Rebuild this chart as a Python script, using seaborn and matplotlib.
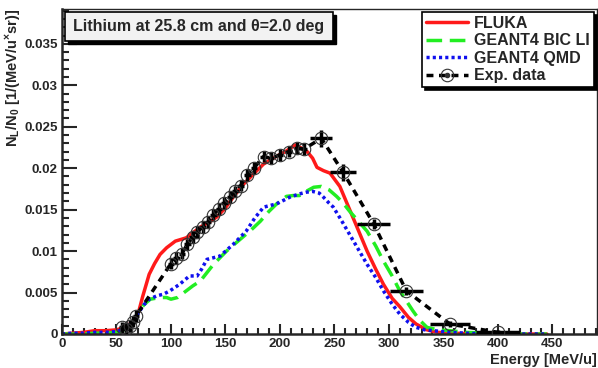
import numpy as np
import pandas as pd
import matplotlib
matplotlib.use("Agg")
import matplotlib.pyplot as plt
import seaborn as sns
from matplotlib.patches import Rectangle
from matplotlib.ticker import MultipleLocator

# ---- data ----
fluka_e = [0, 10, 20, 30, 40, 50, 55, 60, 65, 70, 74, 80, 85, 90, 96, 104, 114, 120,
           127, 135, 142, 150, 157, 166, 175, 185, 195, 205, 214, 220, 225, 230, 234,
           240, 246, 255, 264, 272, 280, 288, 295, 303, 310, 318, 325, 335, 345, 360,
           380, 400, 420, 445]
fluka_v = [0, 0.0001, 0.0002, 0.0004, 0.0004, 0.0005, 0.0007, 0.0010, 0.0015, 0.0025,
           0.0045, 0.0072, 0.0085, 0.0096, 0.0104, 0.0112, 0.0116, 0.0122, 0.0129,
           0.0135, 0.0141, 0.0152, 0.0165, 0.0180, 0.0192, 0.0205, 0.0213, 0.0220,
           0.0228, 0.0224, 0.0220, 0.0212, 0.0201, 0.0197, 0.0194, 0.0178, 0.0150,
           0.0125, 0.0100, 0.0078, 0.0060, 0.0043, 0.0033, 0.0020, 0.0012, 0.0005,
           0.0002, 0.0001, 0, 0, 0, 0]

bic_e = [0, 10, 20, 30, 40, 50, 55, 60, 65, 70, 75, 81, 90, 96, 100, 106, 114, 120, 127,
         133, 139, 145, 151, 158, 166, 174, 182, 190, 197, 206, 212, 218, 224, 231, 238,
         245, 252, 258, 264, 272, 280, 288, 295, 303, 310, 316, 322, 328, 335, 345, 356,
         370, 390, 410, 430, 445]
bic_v = [0, 0, 0, 0.0001, 0.0001, 0.0002, 0.0003, 0.0007, 0.0015, 0.0025, 0.0035, 0.0042,
         0.0044, 0.0044, 0.0042, 0.0044, 0.0052, 0.0058, 0.0064, 0.0074, 0.0084, 0.0092,
         0.0100, 0.0108, 0.0117, 0.0126, 0.0136, 0.0148, 0.0157, 0.0166, 0.0167, 0.0167,
         0.0172, 0.0177, 0.0178, 0.0174, 0.0166, 0.0158, 0.0148, 0.0136, 0.0124, 0.0106,
         0.0088, 0.0070, 0.0052, 0.0040, 0.0028, 0.0017, 0.0008, 0.0005, 0.0004, 0.0002,
         0.0001, 0, 0, 0]

qmd_e = [0, 10, 20, 30, 40, 50, 55, 60, 65, 70, 75, 80, 87, 93, 99, 108, 117, 124, 128,
         133, 139, 145, 151, 157, 163, 169, 177, 185, 191, 197, 203, 209, 218, 224, 230,
         236, 240, 245, 249, 256, 264, 272, 280, 288, 295, 303, 310, 318, 325, 333, 341,
         355, 370, 390, 410, 430, 445]
qmd_v = [0, 0.0001, 0.0001, 0.0002, 0.0002, 0.0003, 0.0005, 0.0009, 0.0015, 0.0025,
         0.0035, 0.0042, 0.0046, 0.0048, 0.0052, 0.0060, 0.0070, 0.0070, 0.0078, 0.0090,
         0.0092, 0.0094, 0.0101, 0.0108, 0.0116, 0.0124, 0.0140, 0.0153, 0.0155, 0.0157,
         0.0161, 0.0165, 0.0169, 0.0171, 0.0172, 0.0170, 0.0165, 0.0158, 0.0153, 0.0138,
         0.0120, 0.0102, 0.0084, 0.0068, 0.0052, 0.0036, 0.0024, 0.0014, 0.0008, 0.0005,
         0.0004, 0.0002, 0.0001, 0, 0, 0, 0]

exp_e = [55, 59, 62, 65, 68, 100, 105, 110, 115, 120, 124, 129, 134, 139, 144, 149, 154,
         159, 164, 170, 176, 185, 192, 200, 208, 216, 222, 238, 258, 286, 316, 356, 400]
exp_v = [0.0008, 0.0006, 0.0010, 0.0015, 0.0022, 0.0085, 0.0092, 0.0097, 0.0108, 0.0117,
         0.0123, 0.0129, 0.0135, 0.0144, 0.0151, 0.0158, 0.0165, 0.0172, 0.0179, 0.0192,
         0.0200, 0.0214, 0.0212, 0.0216, 0.0220, 0.0224, 0.0223, 0.0236, 0.0195, 0.0133,
         0.0052, 0.0012, 0.0002]
exp_xerr = [3] * 27 + [10, 12, 15, 15, 18, 20]
exp_yerr = [0.0007] * 27 + [0.0010, 0.0010, 0.0006, 0.0005, 0.0004, 0.0003]

title_text = "Lithium at 25.8 cm and \u03b8=2.0 deg"
series_labels = ["FLUKA", "GEANT4 BIC LI", "GEANT4 QMD", "Exp. data"]

# ---- style ----
sns.set_theme(style="ticks")
plt.rcParams['font.family'] = ['Liberation Sans', 'DejaVu Sans']
plt.rcParams['font.weight'] = 'bold'
plt.rcParams['mathtext.fontset'] = 'custom'
plt.rcParams['mathtext.bf'] = 'Liberation Sans:bold'
plt.rcParams['mathtext.rm'] = 'Liberation Sans:bold'
plt.rcParams['mathtext.default'] = 'bf'

fig = plt.figure(figsize=(5.98, 3.68), dpi=100)
W, H = 598, 368
ax = fig.add_axes([62 / W, 1 - 334 / H, 535 / W, 325 / H])

sns.lineplot(x=fluka_e, y=fluka_v, ax=ax, color='#ff1a1a', lw=2.5, label=series_labels[0])
sns.lineplot(x=bic_e, y=bic_v, ax=ax, color='#22ee22', lw=2.5,
             label=series_labels[1]).lines[-1].set_dashes((4.5, 2.2))
sns.lineplot(x=qmd_e, y=qmd_v, ax=ax, color='#1010ee', lw=2.5,
             label=series_labels[2]).lines[-1].set_dashes((0.9, 0.9))

ax.errorbar(exp_e, exp_v, xerr=exp_xerr, yerr=exp_yerr, fmt='none', ecolor='black',
            elinewidth=2.5, capsize=0, zorder=4)
sns.lineplot(x=exp_e, y=exp_v, ax=ax, color='black', lw=2.5, marker='o',
             markersize=9, markerfacecolor='none', markeredgecolor='#333333',
             markeredgewidth=0.8, label=series_labels[3], zorder=5)
ax.lines[-1].set_dashes((2.0, 1.6))

ax.set_xlim(0, 491)
ax.set_ylim(0, 0.0392)
ax.xaxis.set_major_locator(MultipleLocator(50))
ax.xaxis.set_minor_locator(MultipleLocator(10))
ax.yaxis.set_major_locator(MultipleLocator(0.005))
ax.yaxis.set_minor_locator(MultipleLocator(0.001))
ax.yaxis.set_major_formatter(plt.FuncFormatter(lambda v, p: ('%g' % round(v, 4))))

ax.tick_params(axis='both', which='both', direction='in', top=False, right=False,
               labelsize=9.6, width=1.5)
ax.tick_params(axis='y', which='major', length=11, pad=3)
ax.tick_params(axis='y', which='minor', length=5)
ax.tick_params(axis='x', which='major', length=7, pad=3)
ax.tick_params(axis='x', which='minor', length=4)
for lab in ax.get_xticklabels() + ax.get_yticklabels():
    lab.set_fontweight('bold')

for s in ['left', 'bottom']:
    ax.spines[s].set_linewidth(1.8)
for s in ['top', 'right']:
    ax.spines[s].set_linewidth(1.0)

ax.set_xlabel("Energy [MeV/u]", fontsize=10.5, fontweight='bold', loc='right')
ax.xaxis.set_label_coords(1.0, -0.058)
ax.xaxis.label.set_va('top')
ax.set_ylabel(r"N$_{L}$/N$_{0}$ [1/(MeV/u$^{\times}$sr)]", fontsize=10.5, fontweight='bold',
              loc='top')
ax.yaxis.set_label_coords(-0.073, 1.0)

# title box with shadow
bx0, by0, bx1, by1 = 65, 12, 333, 41
fig.patches.append(Rectangle(((bx0 + 3) / W, 1 - (by1 + 3) / H), (bx1 - bx0) / W,
                             (by1 - by0) / H, transform=fig.transFigure,
                             facecolor='black', edgecolor='black', zorder=10))
fig.patches.append(Rectangle((bx0 / W, 1 - by1 / H), (bx1 - bx0) / W, (by1 - by0) / H,
                             transform=fig.transFigure, facecolor='#f2f2f2',
                             edgecolor='black', lw=1.2, zorder=11))
fig.text((bx0 + bx1) / 2 / W, 1 - (by0 + by1) / 2 / H, title_text, ha='center',
         va='center', fontsize=11.5, fontweight='bold', zorder=12)

# legend
handles, labels = ax.get_legend_handles_labels()
if ax.get_legend():
    ax.get_legend().remove()
dot = plt.Line2D([], [], ls='none', marker='o', markersize=3, color='#333333')
handles[3] = (handles[3], dot)
leg = fig.legend(handles, labels, loc='upper right',
                 bbox_to_anchor=(594 / W, 1 - 12 / H), bbox_transform=fig.transFigure,
                 borderaxespad=0, frameon=True, fancybox=False,
                 shadow={'color': 'black', 'alpha': 1}, handlelength=2.6,
                 handletextpad=0.4, labelspacing=0.15, borderpad=0.25,
                 prop={'size': 11.5, 'weight': 'bold'})
leg.get_frame().set_edgecolor('black')
leg.get_frame().set_linewidth(1.2)
leg.set_zorder(20)

fig.savefig("out.png", dpi=100)
